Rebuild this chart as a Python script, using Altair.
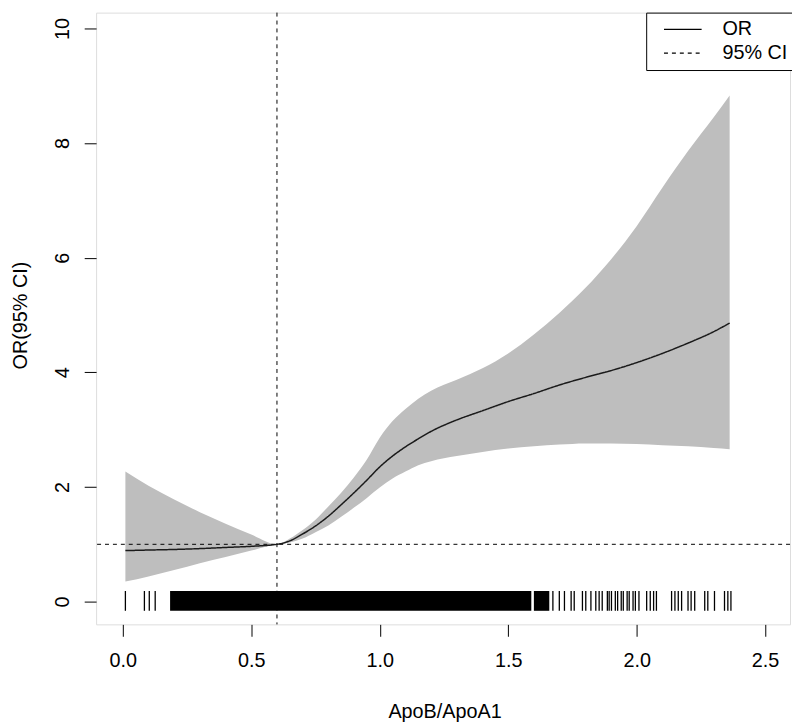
import altair as alt
import pandas as pd

# ---- data ----
ratio = [0.01, 0.1, 0.2, 0.3, 0.4, 0.5, 0.6, 0.65, 0.7, 0.75, 0.8, 0.85, 0.9, 0.95,
         1.0, 1.05, 1.1, 1.15, 1.2, 1.3, 1.4, 1.5, 1.6, 1.7, 1.8, 1.9, 2.0, 2.1,
         2.2, 2.3, 2.362]
or_est = [0.89, 0.90, 0.91, 0.925, 0.945, 0.965, 1.0, 1.06, 1.18, 1.32, 1.49, 1.69,
          1.90, 2.12, 2.35, 2.54, 2.70, 2.84, 2.97, 3.17, 3.33, 3.49, 3.63, 3.78,
          3.91, 4.03, 4.17, 4.33, 4.51, 4.71, 4.86]
ci_low = [0.35, 0.44, 0.55, 0.67, 0.78, 0.89, 1.00, 1.03, 1.10, 1.21, 1.33, 1.48,
          1.64, 1.81, 1.99, 2.15, 2.27, 2.38, 2.45, 2.54, 2.61, 2.67, 2.71, 2.74,
          2.76, 2.76, 2.75, 2.73, 2.71, 2.68, 2.66]
ci_high = [2.27, 2.02, 1.78, 1.56, 1.36, 1.17, 1.00, 1.10, 1.25, 1.43, 1.66, 1.90,
           2.17, 2.48, 2.86, 3.15, 3.36, 3.54, 3.68, 3.87, 4.07, 4.33, 4.66, 5.04,
           5.47, 5.97, 6.55, 7.22, 7.86, 8.45, 8.83]

rug_sparse = [0.01, 0.084, 0.103, 0.126,
              1.674, 1.699, 1.719, 1.745, 1.757, 1.789, 1.802, 1.822, 1.841, 1.854,
              1.866, 1.886, 1.893, 1.902, 1.917, 1.926, 1.940, 1.948, 1.963, 1.971,
              1.986, 1.995, 2.009, 2.039, 2.053, 2.066, 2.077, 2.136, 2.149, 2.162,
              2.175, 2.200, 2.212, 2.226, 2.265, 2.277, 2.303, 2.342, 2.355, 2.367]
rug_dense_start = [0.184, 1.600]
rug_dense_end = [1.590, 1.660]

ref_x = 0.6
ref_y = 1.0
x_ticks = [0.0, 0.5, 1.0, 1.5, 2.0, 2.5]
y_ticks = [0, 2, 4, 6, 8, 10]
x_title = "ApoB/ApoA1"
y_title = "OR(95% CI)"
legend_labels = ["OR", "95% CI"]

curve = pd.DataFrame({"x": ratio, "or": or_est, "lo": ci_low, "hi": ci_high,
                      "kind": legend_labels[0]})
rug = pd.DataFrame({"x": rug_sparse})
dense = pd.DataFrame({"x": rug_dense_start, "x2": rug_dense_end})
ref = pd.DataFrame({"x": [ref_x], "y": [ref_y], "kind": [legend_labels[1]]})

FONT = "Liberation Sans"
xscale = alt.Scale(domain=[-0.104, 2.597], nice=False, zero=False)
yscale = alt.Scale(domain=[-0.397, 10.276], nice=False, zero=False)
dash_scale = alt.Scale(domain=legend_labels, range=[[1, 0], [4, 4]])

xaxis = alt.Axis(values=x_ticks, format=".1f", title=x_title, grid=False, domain=False,
                 tickSize=12, tickColor="black", tickWidth=1,
                 labelFont=FONT, labelFontSize=20, labelColor="black", labelPadding=15,
                 labelFlush=False,
                 titleFont=FONT, titleFontSize=20, titleFontWeight="normal", titleColor="black",
                 titleX=352, titleY=94, titleBaseline="alphabetic", titleAlign="center")
yaxis = alt.Axis(values=y_ticks, format="d", title=y_title, grid=False, domain=False,
                 tickSize=12, tickColor="black", tickWidth=1,
                 labelFont=FONT, labelFontSize=20, labelColor="black", labelPadding=16,
                 labelAngle=270, labelAlign="center", labelBaseline="alphabetic",
                 labelFlush=False,
                 titleFont=FONT, titleFontSize=20, titleFontWeight="normal", titleColor="black",
                 titleAngle=270, titleX=-70, titleY=305.5, titleBaseline="alphabetic",
                 titleAlign="center")


def X(f):
    return alt.X(f, type="quantitative", scale=xscale, axis=xaxis)


def Y(f):
    return alt.Y(f, type="quantitative", scale=yscale, axis=yaxis)


legend = alt.Legend(orient="none", legendX=555.7, legendY=0, title=None,
                    padding=7, symbolOffset=10, symbolType="stroke", symbolSize=1444,
                    symbolStrokeWidth=1.2, symbolStrokeColor="black",
                    labelOffset=20, labelFontSize=20, labelFont=FONT, labelColor="black",
                    strokeColor="black", fillColor="white", rowPadding=4, clipHeight=20)
dash = alt.StrokeDash("kind:N", scale=dash_scale, legend=legend)

band = alt.Chart(curve).mark_area(color="#BEBEBE", opacity=1, interpolate="monotone").encode(
    x=X("x"), y=Y("lo"), y2="hi")

dense_rug = alt.Chart(dense).mark_rect(color="black").encode(
    x=X("x"), x2="x2",
    y=alt.Y(datum=-0.16, scale=yscale, axis=yaxis), y2=alt.Y2(datum=0.185))

sparse_rug = alt.Chart(rug).mark_rule(color="black", strokeWidth=1.3).encode(
    x=X("x"),
    y=alt.Y(datum=-0.16, scale=yscale, axis=yaxis), y2=alt.Y2(datum=0.185))

vref = alt.Chart(ref).mark_rule(color="black", strokeWidth=1).encode(
    x=X("x"), strokeDash=dash)

href = alt.Chart(ref).mark_rule(color="black", strokeWidth=1).encode(
    y=Y("y"), strokeDash=dash)

line = alt.Chart(curve).mark_line(color="#1a1a1a", strokeWidth=1.5, interpolate="monotone").encode(
    x=X("x"), y=Y("or"), strokeDash=dash)

chart = alt.layer(band, dense_rug, sparse_rug, vref, href, line).properties(
    width=701, height=618,
    autosize=alt.AutoSizeParams(type="none"),
    padding={"left": 89, "top": 1, "right": 2, "bottom": 100},
).configure_view(stroke="black", strokeWidth=1.2).configure(background="white")

chart.save("out.html", embed_options={"renderer": "svg", "actions": False})
